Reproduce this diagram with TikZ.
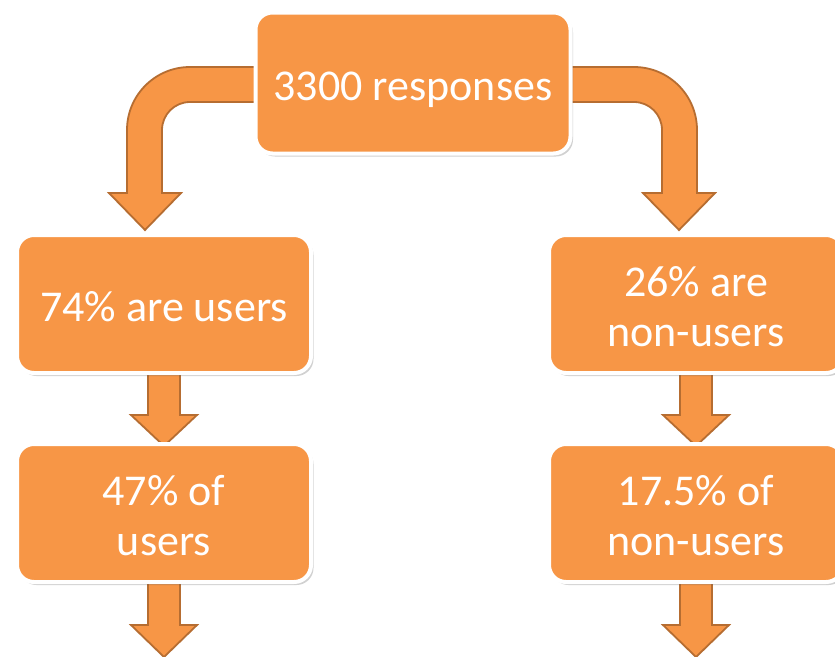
\documentclass[tikz,border=0pt]{standalone}
\usepackage{fontspec}
\setmainfont{Carlito}
\usetikzlibrary{shadows,calc}
\definecolor{boxorange}{HTML}{F79646}
\definecolor{arrowedge}{HTML}{B66D31}
\newcommand\boxtext[1]{\raisebox{0pt}[\dimexpr\height+14pt\relax][\depth]{\begin{tabular}{@{}c@{}}#1\end{tabular}}}
\tikzset{
  box/.style={rectangle, rounded corners=17pt, fill=boxorange, draw=white, line width=4pt,
    minimum width=294pt, minimum height=138pt, text=white, align=center,
    font=\fontsize{44}{50}\selectfont, inner sep=0pt,
    drop shadow={shadow xshift=2.5pt, shadow yshift=-3pt, fill=black, opacity=0.18}},
  blockarrow/.style={fill=boxorange, draw=arrowedge, line width=1.8pt, line join=miter}
}
\newcommand\dnarrow[3]{%
  \filldraw[blockarrow] ($(#1)+(-16,0)$) -- ($(#1)+(16,0)$) -- ($(#1)+(16,{-(#2)})$)
    -- ($(#1)+(33,{-(#2)})$) -- ($(#1)+(0,{-(#2)-(#3)})$) -- ($(#1)+(-33,{-(#2)})$)
    -- ($(#1)+(-16,{-(#2)})$) -- cycle;}
\begin{document}
\begin{tikzpicture}[x=1pt,y=1pt]
\clip (0,0) rectangle (835,-656);
\fill[white] (0,0) rectangle (835,-656);
% anchor coordinates for arrows
\coordinate (la) at (164,-370);
\coordinate (ra) at (696,-370);
\coordinate (lb) at (164,-580);
\coordinate (rb) at (696,-580);
% bent arrows
\filldraw[blockarrow] (262,-67) -- (190,-67) arc[start angle=90, end angle=180, radius=63]
  -- (127,-193) -- (109,-193) -- (145,-230) -- (181,-193) -- (162,-193) -- (162,-130)
  arc[start angle=180, end angle=90, radius=28] -- (262,-102) -- cycle;
\filldraw[blockarrow] (562,-67) -- (634,-67) arc[start angle=90, end angle=0, radius=63]
  -- (697,-193) -- (715,-193) -- (679,-230) -- (643,-193) -- (662,-193) -- (662,-130)
  arc[start angle=0, end angle=90, radius=28] -- (562,-102) -- cycle;
% straight arrows
\dnarrow{la}{45}{31}
\dnarrow{ra}{45}{31}
\dnarrow{lb}{45}{32}
\dnarrow{rb}{45}{32}
% boxes
\node[box, minimum width=315pt, minimum height=141pt] (top) at (413,-83) {\boxtext{3300 responses}};
\node[box] (users) at (164,-304) {\boxtext{74\% are users}};
\node[box] (nonusers) at (696,-304) {\boxtext{26\% are\\non-users}};
\node[box] (users2) at (164,-513) {\boxtext{47\% of\\users}};
\node[box] (nonusers2) at (696,-513) {\boxtext{17.5\% of\\non-users}};
\end{tikzpicture}
\end{document}
